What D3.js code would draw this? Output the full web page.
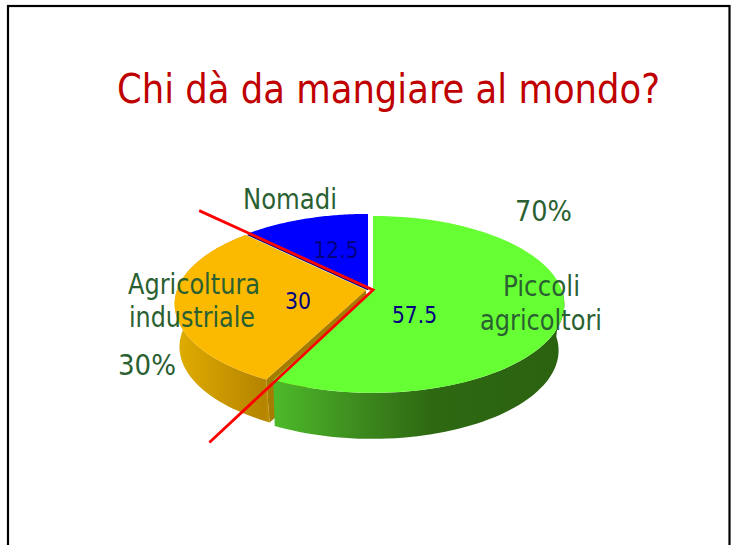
<!DOCTYPE html>
<html><head><meta charset="utf-8">
<script src="https://cdn.jsdelivr.net/npm/d3@7"></script>
<style>html,body{margin:0;padding:0;background:#fff;overflow:hidden}svg{display:block}
text{font-family:"DejaVu Sans Condensed","DejaVu Sans",sans-serif;font-stretch:condensed}</style>
</head><body><script>
const titleText = "Chi dà da mangiare al mondo?";
const categories = ["Piccoli agricoltori", "Agricoltura industriale", "Nomadi"];
const values = [57.5, 30, 12.5];
const sharePercents = ["70%", "30%"];

const W = 731, H = 545;
const svg = d3.select("body").append("svg").attr("width", W).attr("height", H);
const defs = svg.append("defs");
function grad(id, x1, x2, stops){
  const g = defs.append("linearGradient").attr("id", id).attr("gradientUnits","userSpaceOnUse")
    .attr("x1",x1).attr("x2",x2).attr("y1",0).attr("y2",0);
  stops.forEach(s=>g.append("stop").attr("offset",s[0]).attr("stop-color",s[1]));
}
grad("gw", 274, 560, [[0,"#4cba2a"],[.3,"#3d8a1e"],[.55,"#2e6912"],[1,"#2b6210"]]);
grad("ow", 178, 272, [[0,"#dfac00"],[.75,"#bd8b00"],[.92,"#b58400"],[1,"#c79400"]]);

svg.append("rect").attr("x",8).attr("y",6).attr("width",721.5).attr("height",H+10)
  .attr("fill","#fff").attr("stroke","#000").attr("stroke-width",2.2);

const pie = d3.pie().sort(null).value(d=>d)(values);
const K = 0.157, sx = d3.scaleLinear([-1,1],[-189,189]), sy = d3.scaleLinear([-1,1],[-86.3,86.3]);
function proj(theta, r, c, scale=1, dz=0, dx=0){
  const u = Math.sin(theta)*r, v = -Math.cos(theta)*r, w = 1-K*v;
  return [c[0]+dx+scale*sx(u)/w, c[1]+sy(v)/w+dz];
}
const line = d3.line();
function arcPts(a0,a1,c,scale=1,dz=0,dx=0){
  return d3.range(0,61).map(i=>proj(a0+(a1-a0)*i/60,1,c,scale,dz,dx));
}
const apex = [[373,290.5],[366,290],[368,288.5]];
const fills = ["#66ff33","#fbb900","#0000ff"];
const DEPTH = 46, BS = 0.975;
const [pG,pO,pB] = pie;

// Blue top
svg.append("path").attr("d",line([apex[2],...arcPts(pB.startAngle,pB.endAngle,apex[2])])+"Z").attr("fill",fills[2]);
// Orange wall
const oTop = arcPts(pO.startAngle,pO.endAngle,apex[1]), oBot = arcPts(pO.startAngle,pO.endAngle,apex[1],0.985,DEPTH-3,2);
svg.append("path").attr("d",line([...oTop,...oBot.slice().reverse()])+"Z").attr("fill","url(#ow)");
// Orange cut face
svg.append("path").attr("d",line([apex[1],proj(pO.startAngle,1,apex[1]),oBot[0],[apex[1][0]+2,apex[1][1]+DEPTH-3]])+"Z").attr("fill","#a67c00");
// Orange top
svg.append("path").attr("d",line([apex[1],...oTop])+"Z").attr("fill",fills[1]);
// Navy edge between blue and orange
svg.append("path").attr("d",line([proj(pB.startAngle,1,apex[2],1,1),[apex[2][0],apex[2][1]+1]])).attr("stroke","#000080").attr("stroke-width",1.5).attr("fill","none");
// Green wall (front part only) and top
const wallStart = pG.startAngle + Math.PI/2;
const gTop = arcPts(pG.startAngle,pG.endAngle,apex[0]);
const gWallTop = arcPts(wallStart,pG.endAngle,apex[0]), gBot = arcPts(wallStart,pG.endAngle,apex[0],BS,DEPTH,-1);
svg.append("path").attr("d",line([...gWallTop,...gBot.slice().reverse()])+"Z").attr("fill","url(#gw)");
svg.append("path").attr("d",line([apex[0],...gTop])+"Z").attr("fill",fills[0]);

// Red cuts along slice borders
const cuts = [pB.startAngle, pO.startAngle];
svg.append("path").attr("d",line([proj(cuts[0],1.52,[373,290]),[373,290],proj(cuts[1],1.52,[373,290],1,4,2)]))
  .attr("fill","none").attr("stroke","#ff0000").attr("stroke-width",2.8).attr("stroke-linejoin","miter");

const TXT="#2a5f32", NAVY="#000080";
function T(s,x,y,size,fill,len){
  const t=svg.append("text").attr("x",x).attr("y",y).attr("font-size",size).attr("fill",fill).attr("text-anchor","middle").text(s);
  if(len) t.attr("textLength",len).attr("lengthAdjust","spacingAndGlyphs");
}
T(titleText,388.5,103,41,"#c00000",543);
T(categories[2],290,209,27.5,TXT,94);
const [c0a,c0b] = categories[0].split(" "), [c1a,c1b] = categories[1].split(" ");
T(c1a,194,294,27.5,TXT,132); T(c1b,192,327,27.5,TXT,126);
T(c0a,541.5,296,27.5,TXT,77); T(c0b,541,330,27.5,TXT,122);
T(sharePercents[0],543.5,221,27.5,TXT,57);
T(sharePercents[1],147,375,27.5,TXT,58);
T(String(values[2]),336,258,23.5,NAVY,45);
T(String(values[1]),298,309,23.5,NAVY,26);
T(String(values[0]),414.5,323,23.5,NAVY,45);
</script></body></html>
